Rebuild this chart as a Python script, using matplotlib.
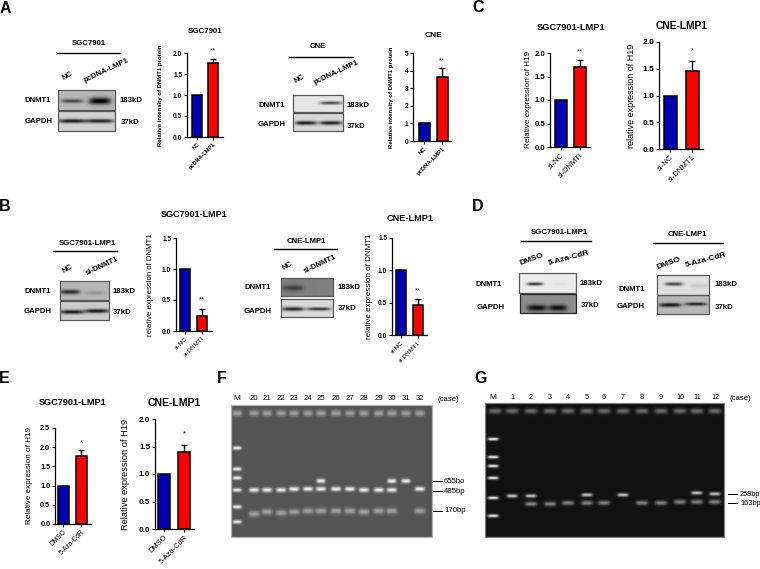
import numpy as np
import matplotlib
matplotlib.use("Agg")
import matplotlib.pyplot as plt
from matplotlib.patches import Rectangle

plt.rcParams['font.family'] = ['Liberation Sans', 'DejaVu Sans']

W, H = 760, 569
BLUE = '#0000b4'
RED = '#ff0000'

# bar chart values
a1_labels = ['NC', 'pcDNA-LMP1']
a1_values = [1.0, 1.76]
a1_errors = [0, 0.09]
a2_values = [1.0, 3.66]
a2_errors = [0, 0.50]
b_labels = ['si-NC', 'si-DNMTI']
b1_values = [1.0, 0.24]
b1_errors = [0, 0.11]
b2_labels = ['si-NC', 'si-DNMT1']
b2_values = [1.0, 0.47]
b2_errors = [0, 0.08]
c1_values = [1.0, 1.70]
c1_errors = [0, 0.15]
c2_values = [1.0, 1.46]
c2_errors = [0, 0.19]
e_labels = ['DMSO', '5-Aza-CdR']
e1_values = [1.0, 1.78]
e1_errors = [0, 0.14]
e2_values = [1.0, 1.40]
e2_errors = [0, 0.12]

# gel lanes
f_lanes = ['20', '21', '22', '23', '24', '25', '26', '27', '28', '29', '30', '31', '32']
f_lane_x = [254, 267, 281, 294, 308, 321, 336, 350, 364, 379, 392, 406, 420]
f_485 = [490, 490, 490, 489, 489, 489, 489, 489, 490, 490, 490, None, 489]
f_655 = [None, None, None, None, None, 481, None, None, None, None, 481, 481, None]
f_170 = [514, 512, 513, 512, 511, 511, 511, 511, 512, 511, 511, None, 511]
f_marker_y = [448, 469, 478, 490, 507, 522]

g_lanes = ['1', '2', '3', '4', '5', '6', '7', '8', '9', '10', '11', '12']
g_lane_x = [512, 531, 550, 568, 587, 604, 623, 642, 661, 680, 697, 715]
g_258 = [496, 496, None, None, 495, None, 495, None, None, None, 493, 494]
g_163 = [None, 504, 504, 503, 503, 503, None, 503, 503, 502, 502, 502]
g_marker_y = [439, 457, 466, 478, 498, 516]


def blot(ax, x0, y0, x1, y1, bg, bands, edge='0.35'):
    # soft bands on a flat background, x/y in page pixels
    xs = np.linspace(x0, x1, int((x1 - x0) * 3))
    ys = np.linspace(y0, y1, int((y1 - y0) * 3))
    xx, yy = np.meshgrid(xs, ys)
    img = np.full(xx.shape, float(bg))
    for cx, cy, hw, hh, amp in bands:
        img += amp * np.exp(-((xx - cx) / hw) ** 4 - ((yy - cy) / hh) ** 2)
    ax.imshow(np.clip(img, 0, 1), extent=(x0, x1, y1, y0), cmap='gray', vmin=0, vmax=1,
              aspect='auto', interpolation='bilinear', zorder=1)
    ax.add_patch(Rectangle((x0, y0), x1 - x0, y1 - y0, fill=False, ec=edge, lw=0.9, zorder=2))


def txt(ax, x, y, s, size=5.6, rot=0, ha='center', weight='bold', color='black'):
    ax.text(x, y, s, fontsize=size, rotation=rot, ha=ha, va='center', fontweight=weight,
            color=color, rotation_mode='anchor', zorder=5)


def hdr(ax, x, y, s, x0, x1, ly):
    txt(ax, x, y, s)
    ax.plot([x0, x1], [ly, ly], color='black', lw=1.0, zorder=3)


def chart(left, right, top, bottom, c1, c2, bw, ymax, ticks, values, errors, labels, ylabel,
          ylab_x, title, title_y, star, star_y, fs=5.6, lab_fs=5.6, x_fs=5.6, title_fs=6.0,
          weight='normal', tick_weight='bold'):
    ax = fig.add_axes([left / W, 1 - bottom / H, (right - left) / W, (bottom - top) / H])
    ax.patch.set_alpha(0)
    step = c2 - c1
    ax.set_xlim((left - c1) / step, (right - c1) / step)
    ax.set_ylim(0, ymax)
    pos = [0, 1]
    ax.bar(pos, values, width=bw / step, color=[BLUE, RED], edgecolor='black', linewidth=1.1, zorder=2)
    ax.errorbar(pos[1], values[1], yerr=[[0], [errors[1]]], color='black', capsize=2.4, lw=1.0,
                capthick=1.0, zorder=1)
    for s in ['top', 'right']:
        ax.spines[s].set_visible(False)
    for s in ['left', 'bottom']:
        ax.spines[s].set_linewidth(0.9)
    ax.set_yticks(ticks)
    ax.set_yticklabels(['%g' % t if ymax == 5 else '%.1f' % t for t in ticks], fontsize=fs,
                       fontweight=tick_weight)
    ax.set_xticks(pos)
    ax.set_xticklabels(labels, rotation=45, ha='right', rotation_mode='anchor', fontsize=x_fs,
                       fontweight=weight)
    ax.tick_params(length=2.2, width=0.8, pad=1.2)
    ax.set_ylabel(ylabel, fontsize=lab_fs, fontweight=weight)
    ax.yaxis.set_label_coords((ylab_x - left) / (right - left), 0.5)
    cx = (c1 + c2) / 2 + 0.5
    page.text(cx, title_y, title, fontsize=title_fs, fontweight='bold', ha='center', va='center')
    page.text(c2, star_y, star, fontsize=5.5, ha='center', va='center')
    return ax


fig = plt.figure(figsize=(W / 100, H / 100), dpi=100)
page = fig.add_axes([0, 0, 1, 1])
page.axis('off')

# panel letters
for s, x, y in [('A', 5, 8), ('B', 5, 206), ('C', 478, 7), ('D', 478, 206), ('E', 4, 378),
                ('F', 222, 378), ('G', 481, 378)]:
    txt(page, x, y, s, size=11.5)

# A blots
hdr(page, 89, 43, 'SGC7901', 57, 120, 53)
txt(page, 68, 76, 'NC', rot=30)
txt(page, 106, 71, 'pcDNA-LMP1', rot=25)
blot(page, 58, 90, 115, 110, 0.72, [(72, 101, 11, 2, -0.45), (100, 101, 11, 3.5, -0.72)])
blot(page, 58, 111, 115, 131, 0.82, [(72, 121, 14, 2, -0.72), (100, 121, 14, 2, -0.7)])
txt(page, 38, 100, 'DNMT1')
txt(page, 39, 121, 'GAPDH')
txt(page, 120, 100, '183kD', ha='left')
txt(page, 121, 122, '37kD', ha='left')

hdr(page, 318, 46, 'CNE', 289, 353, 57)
txt(page, 300, 79, 'NC', rot=30)
txt(page, 336, 73, 'pcDNA-LMP1', rot=25)
blot(page, 293, 95, 343, 112, 0.9, [(331, 103, 11, 1.6, -0.6)])
blot(page, 293, 113, 343, 131, 0.85, [(306, 123, 11, 2, -0.75), (331, 123, 11, 2, -0.75)])
txt(page, 272, 105, 'DNMT1')
txt(page, 272, 124, 'GAPDH')
txt(page, 347, 105, '183kD', ha='left')
txt(page, 347, 126, '37kD', ha='left')

# B blots
hdr(page, 87, 243, 'SGC7901-LMP1', 53, 117, 251)
txt(page, 68, 269, 'NC', rot=30)
txt(page, 102, 266, 'si-DNMT1', rot=25)
blot(page, 60, 281, 109, 300, 0.72, [(70, 292, 10, 2.4, -0.55), (95, 293, 10, 2, -0.14)])
blot(page, 60, 301, 109, 320, 0.8, [(72, 312, 12, 2, -0.72), (97, 311, 12, 2, -0.72)])
txt(page, 38, 291, 'DNMT1')
txt(page, 38, 311, 'GAPDH')
txt(page, 113, 291, '183kD', ha='left')
txt(page, 113, 312, '37kD', ha='left')

hdr(page, 306, 241, 'CNE-LMP1', 274, 337, 249)
txt(page, 288, 266, 'NC', rot=30)
txt(page, 320, 264, 'si-DNMT1', rot=25)
blot(page, 281, 278, 333, 296, 0.5, [(293, 288, 10, 3, -0.25)])
blot(page, 281, 299, 333, 317, 0.85, [(293, 309, 11, 2, -0.72), (319, 309, 12, 1.6, -0.65)])
txt(page, 258, 287, 'DNMT1')
txt(page, 258, 311, 'GAPDH')
txt(page, 338, 287, '183kD', ha='left')
txt(page, 338, 308, '37kD', ha='left')

# D blots
hdr(page, 559, 232, 'SGC7901-LMP1', 521, 591, 241)
txt(page, 532, 259, 'DMSO', rot=20, size=6)
txt(page, 569, 258, '5-Aza-CdR', rot=15, size=6)
blot(page, 519, 273, 576, 293, 0.92, [(535, 284, 8, 1.5, -0.75), (560, 284, 10, 2, -0.04)])
blot(page, 520, 294, 576, 313, 0.55, [(537, 308, 10, 3, -0.5), (558, 308, 9, 3, -0.5)], edge='0.15')
txt(page, 489, 284, 'DNMT1')
txt(page, 491, 307, 'GAPDH')
txt(page, 580, 283, '183kD', ha='left')
txt(page, 581, 305, '37kD', ha='left')

hdr(page, 687, 234, 'CNE-LMP1', 653, 723, 243)
txt(page, 669, 263, 'DMSO', rot=20, size=6)
txt(page, 706, 260, '5-Aza-CdR', rot=15, size=6)
blot(page, 657, 275, 709, 295, 0.88, [(674, 284, 9, 1.8, -0.6), (699, 286, 9, 2.5, -0.1)])
blot(page, 657, 295, 709, 314, 0.72, [(670, 305, 11, 2, -0.65), (696, 304, 11, 1.6, -0.6)])
txt(page, 632, 289, 'DNMT1')
txt(page, 631, 306, 'GAPDH')
txt(page, 715, 284, '183kD', ha='left')
txt(page, 715, 307, '37kD', ha='left')

# gel F
f_bands = [(237, y, 4.5, 1.8, 0.62) for y in f_marker_y]
for x in [237] + f_lane_x:
    f_bands.append((x, 413, 5, 3, 0.3))
for x, y485, y655, y170 in zip(f_lane_x, f_485, f_655, f_170):
    if y485:
        f_bands.append((x, y485, 5, 2.2, 0.62))
    if y655:
        f_bands.append((x, y655, 4.5, 2.2, 0.62))
    if y170:
        f_bands.append((x, y170, 5.5, 3, 0.3))
blot(page, 231, 405, 432, 537, 0.33, f_bands, edge='0.7')
txt(page, 237, 398, 'M', weight='normal', size=6)
for x, s in zip(f_lane_x, f_lanes):
    txt(page, x, 398, s, weight='normal')
txt(page, 437, 399, '(case)', ha='left', weight='normal')
txt(page, 444, 481, '655bo', ha='left', weight='normal')
txt(page, 444, 491, '485bp', ha='left', weight='normal')
txt(page, 444, 511, '170bp', ha='left', weight='normal')
for y in [481, 491, 511]:
    page.plot([433, 442], [y, y], color='black', lw=0.7, zorder=3)

# gel G
g_bands = [(493, y, 5.5, 1.5, 0.88) for y in g_marker_y]
for x in [495] + g_lane_x:
    g_bands.append((x, 411, 6.5, 2.6, 0.35))
for x, y258, y163 in zip(g_lane_x, g_258, g_163):
    if y258:
        g_bands.append((x, y258, 5.5, 1.7, 0.72))
    if y163:
        g_bands.append((x, y163, 6, 2.2, 0.45))
blot(page, 485, 403, 724, 537, 0.07, g_bands, edge='0.5')
txt(page, 493, 397, 'M', weight='normal', size=6)
for x, s in zip(g_lane_x, g_lanes):
    txt(page, x, 397, s, weight='normal', size=5.2)
txt(page, 730, 398, '(case)', ha='left', weight='normal')
txt(page, 740, 494, '258bp', ha='left', weight='normal', size=5.3)
txt(page, 740, 503, '163bp', ha='left', weight='normal', size=5.3)
for y in [494, 503]:
    page.plot([728, 737], [y, y], color='black', lw=0.7, zorder=3)

page.set_xlim(0, W)
page.set_ylim(H, 0)

# bar charts
chart(187, 223, 53, 137, 197, 213, 10, 2.0, [0, 0.5, 1, 1.5, 2], a1_values, a1_errors, a1_labels,
      'Relative intensity of DNMT1 protein', 163, 'SGC7901', 31, '**', 51, fs=4.8, lab_fs=4.35,
      x_fs=4.0, title_fs=5.7, weight='bold')
chart(413, 451, 53, 141, 424, 442, 11, 5, [0, 1, 2, 3, 4, 5], a2_values, a2_errors, a1_labels,
      'Relative intensity of DNMT1 protein', 394, 'CNE', 35, '**', 61, fs=4.8, lab_fs=4.35,
      x_fs=4.2, title_fs=6, weight='bold')
chart(176, 212, 238, 331, 185, 202, 10.5, 1.5, [0, 0.5, 1, 1.5], b1_values, b1_errors, b_labels,
      'relative expression of DNMT1', 154, 'SGC7901-LMP1', 214, '**', 300, fs=4.8, lab_fs=5.6,
      x_fs=4.5, title_fs=6.5)
chart(392, 427, 238, 335, 401, 418, 10, 1.5, [0, 0.5, 1, 1.5], b2_values, b2_errors, b2_labels,
      'relative expression of DNMT1', 373, 'CNE-LMP1', 218, '**', 291, fs=4.8, lab_fs=5.8,
      x_fs=4.5, title_fs=6.6)
chart(550, 590, 53, 147, 561, 580, 12, 2.0, [0, 0.5, 1, 1.5, 2], c1_values, c1_errors, b_labels,
      'Relative expression of H19', 532, 'SGC7901-LMP1', 27, '**', 52, fs=5.6, lab_fs=5.9,
      x_fs=5.4, title_fs=6.7)
chart(659, 703, 42, 149, 670, 692, 13, 2.0, [0, 0.5, 1, 1.5, 2], c2_values, c2_errors, b2_labels,
      'relative expression of H19', 636, 'CNE-LMP1', 26, '*', 51, fs=6, lab_fs=6.5, x_fs=5.6, title_fs=7.4)
chart(55, 91, 428, 524, 63, 81, 11, 2.5, [0, 0.5, 1, 1.5, 2, 2.5], e1_values, e1_errors, e_labels,
      'Relative expression of H19', 33, 'SGC7901-LMP1', 402, '*', 443, fs=5.2, lab_fs=5.9, x_fs=4.8,
      title_fs=6.6)
chart(155, 194, 419, 529, 164, 184, 12, 2.0, [0, 0.5, 1, 1.5, 2], e2_values, e2_errors, e_labels,
      'Relative expression of H19', 130, 'CNE-LMP1', 403, '*', 434, fs=5.8, lab_fs=6.7, x_fs=5.4, title_fs=7.5)

fig.savefig('out.png', dpi=100)
